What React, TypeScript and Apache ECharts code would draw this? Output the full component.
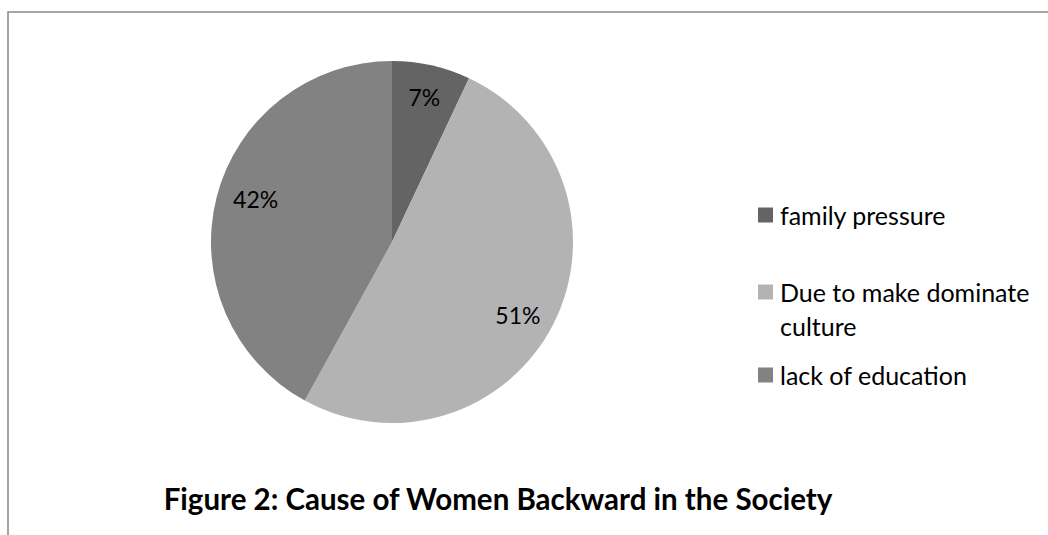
import React, { useEffect, useRef } from "react";
import * as echarts from "echarts";

// Causes and their shares (percent)
const causes = ["family pressure", "Due to make dominate culture", "lack of education"];
const shares = [7, 51, 42];
const sliceColors = ["#646464", "#b3b3b3", "#828282"];
const titleText = "Figure 2: Cause of Women Backward in the Society";

const FONT = "Lato, 'Open Sans', sans-serif";

export default function App() {
  const ref = useRef<HTMLDivElement>(null);

  useEffect(() => {
    if (!ref.current) return;
    const chart = echarts.init(ref.current, undefined, { renderer: "svg" });

    const pieData = causes.map((name, i) => ({
      name,
      value: shares[i],
      itemStyle: { color: sliceColors[i] },
    }));

    // small nudges so each percentage sits where it reads best inside its slice
    const labelNudge: [number, number][] = [
      [0, -1],
      [-6, 6],
      [7, -6],
    ];

    const legendText = {
      fontFamily: FONT,
      fontSize: 25,
      color: "#000",
      lineHeight: 34,
      padding: [0, 0, 0, 2],
    };

    // the wrapped entry gets an empty first line so its first text line lines up with the swatch
    const legendLabel = (n: string) =>
      n === causes[1] ? "\nDue to make dominate\nculture" : n;

    const legendTops = [198, 241, 358];
    const legends = causes.map((name, i) => ({
      show: true,
      orient: "vertical" as const,
      left: 758,
      top: legendTops[i],
      padding: 0,
      icon: "rect",
      itemWidth: 15,
      itemHeight: 15,
      selectedMode: false,
      data: [{ name, itemStyle: { color: sliceColors[i] } }],
      formatter: legendLabel,
      textStyle: legendText,
    }));

    chart.setOption({
      animation: false,
      backgroundColor: "#ffffff",
      legend: legends,
      series: [
        {
          type: "pie",
          center: [392, 242],
          radius: [0, 181],
          startAngle: 90,
          clockwise: true,
          silent: true,
          label: { show: false },
          labelLine: { show: false },
          itemStyle: { borderWidth: 0 },
          data: pieData,
        },
        {
          // transparent ring that only carries the percentage labels
          type: "pie",
          center: [392, 242],
          radius: [110, 180],
          startAngle: 90,
          clockwise: true,
          silent: true,
          legendHoverLink: false,
          itemStyle: { color: "rgba(0,0,0,0)", borderWidth: 0 },
          label: {
            show: true,
            position: "inside",
            formatter: "{c}%",
            fontFamily: FONT,
            fontSize: 23,
            color: "#000",
          },
          labelLine: { show: false },
          data: causes.map((name, i) => ({
            name,
            value: shares[i],
            label: { offset: labelNudge[i] },
          })),
        },
      ],
      graphic: [
        {
          type: "rect",
          shape: { x: 8, y: 12, width: 1200, height: 800 },
          style: { fill: "none", stroke: "#888888", lineWidth: 1.5 },
          silent: true,
        },
        {
          type: "text",
          x: 498,
          y: 498,
          style: {
            text: titleText,
            align: "center",
            verticalAlign: "middle",
            fontFamily: FONT,
            fontWeight: "bold",
            fontSize: 29.5,
            fill: "#000",
          },
          silent: true,
        },
      ],
    });

    return () => chart.dispose();
  }, []);

  return (
    <div
      ref={ref}
      style={{ position: "fixed", left: 0, top: 0, width: 1048, height: 535, background: "#fff" }}
    />
  );
}
